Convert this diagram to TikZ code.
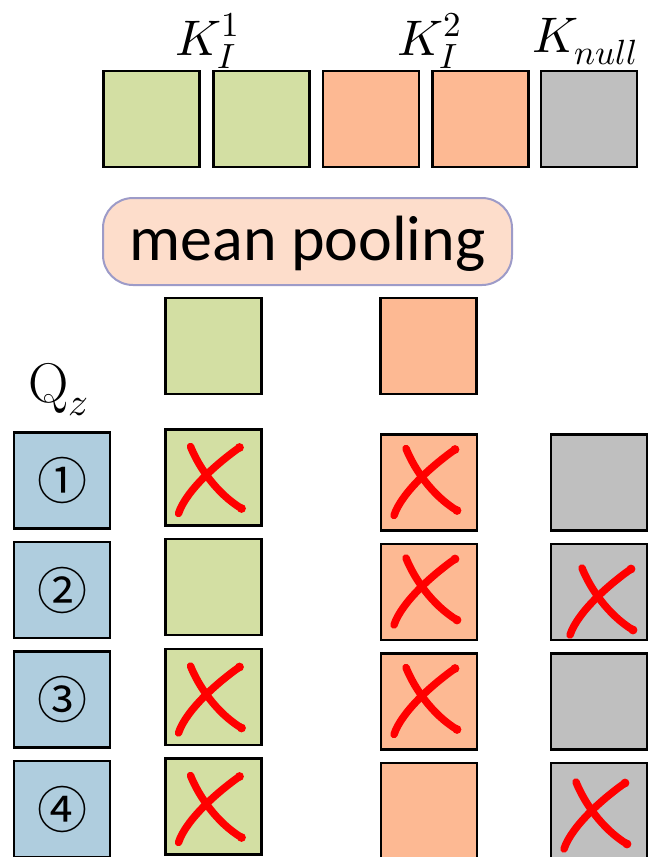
\documentclass[tikz,border=0pt]{standalone}
\usepackage{fontspec}
\usepackage{unicode-math}
\setmathfont{Latin Modern Math}
\newfontfamily\poolfont{Carlito}
\newfontfamily\circfont{Noto Sans CJK SC}
\usetikzlibrary{calc}

\definecolor{keygreen}{HTML}{D3DFA3}
\definecolor{keyorange}{HTML}{FDB993}
\definecolor{keygray}{HTML}{BFBFBF}
\definecolor{qblue}{HTML}{AFCDDE}
\definecolor{poolfill}{HTML}{FDDDCB}
\definecolor{poolline}{HTML}{9D9BC8}
\definecolor{crossred}{HTML}{FF0000}

\tikzset{
  cell/.style={draw=black, line width=2.4pt, minimum size=96pt, inner sep=0pt},
  greencell/.style={cell, fill=keygreen},
  orangecell/.style={cell, fill=keyorange},
  graycell/.style={cell, fill=keygray},
  querycell/.style={cell, fill=qblue, font=\circfont\fontsize{50}{54}\selectfont},
  keylabel/.style={anchor=base west, inner sep=0pt, font=\fontsize{50}{56}\selectfont},
  redx/.pic={
    \draw[crossred, line width=7.5pt, line cap=round]
      (-23,-34) .. controls (-15,-14) and (3,13) .. (28,28);
    \draw[crossred, line width=7.5pt, line cap=round]
      (26,-33) .. controls (6,-19) and (-27,9) .. (-35,33);
    \fill[crossred] (26,-33) circle (4.4) (28,28) circle (4.4);
  }
}

\begin{document}
\begin{tikzpicture}[x=1pt, y=-1pt]
\useasboundingbox (0,0) rectangle (648,857);
\clip (0,0) rectangle (648,857);

% key tokens
\node[greencell]  (t1) at (151.5,119) {};
\node[greencell]  (t2) at (261.5,119) {};
\node[orangecell] (t3) at (371,119) {};
\node[orangecell] (t4) at (480.5,119) {};
\node[graycell]   (t5) at (589,119) {};

\node[keylabel] (lk1) at (175,55) {$K_I^1$};
\node[keylabel] (lk2) at (397,55) {$K_I^2$};
\node[keylabel] (lkn) at (532,52) {$K_{null}$};

% pooling
\node[draw=poolline, fill=poolfill, line width=2pt, rounded corners=30pt,
      minimum width=409pt, minimum height=87pt, inner sep=0pt,
      text height=46pt, text depth=8pt,
      font=\poolfont\fontsize{64}{70}\selectfont] (pool) at (307.5,241.5) {mean pooling};

\node[greencell]  (m1) at (213.5,346) {};
\node[orangecell] (m2) at (428.5,346) {};

% queries
\node[anchor=base west, inner sep=0pt, font=\fontsize{56}{60}\selectfont] (ql) at (28,402) {$\mathrm{Q}_z$};

\node[querycell] (q1) at (62,480.5) {①};
\node[querycell] (q2) at (62,590) {②};
\node[querycell] (q3) at (62,699.5) {③};
\node[querycell] (q4) at (62,809) {④};

\node[greencell] (g1) at (213.5,477.5) {};
\node[greencell] (g2) at (213.5,587) {};
\node[greencell] (g3) at (213.5,697) {};
\node[greencell] (g4) at (213.5,806.5) {};

\node[orangecell] (o1) at (429,482.5) {};
\node[orangecell] (o2) at (429,592) {};
\node[orangecell] (o3) at (429,701.5) {};
\node[orangecell] (o4) at (429,811) {};

\node[graycell] (n1) at (599,482.5) {};
\node[graycell] (n2) at (599,592) {};
\node[graycell] (n3) at (599,701.5) {};
\node[graycell] (n4) at (599,811) {};

% masked entries
\pic at ($(g1)+(0,3)$) {redx};
\pic at ($(g3)+(0,3)$) {redx};
\pic at ($(g4)+(0,3)$) {redx};
\pic at (o1) {redx};
\pic at (o2) {redx};
\pic at (o3) {redx};
\pic at ($(n2)+(6,10)$) {redx};
\pic at ($(n4)+(0,5)$) {redx};
\end{tikzpicture}
\end{document}
